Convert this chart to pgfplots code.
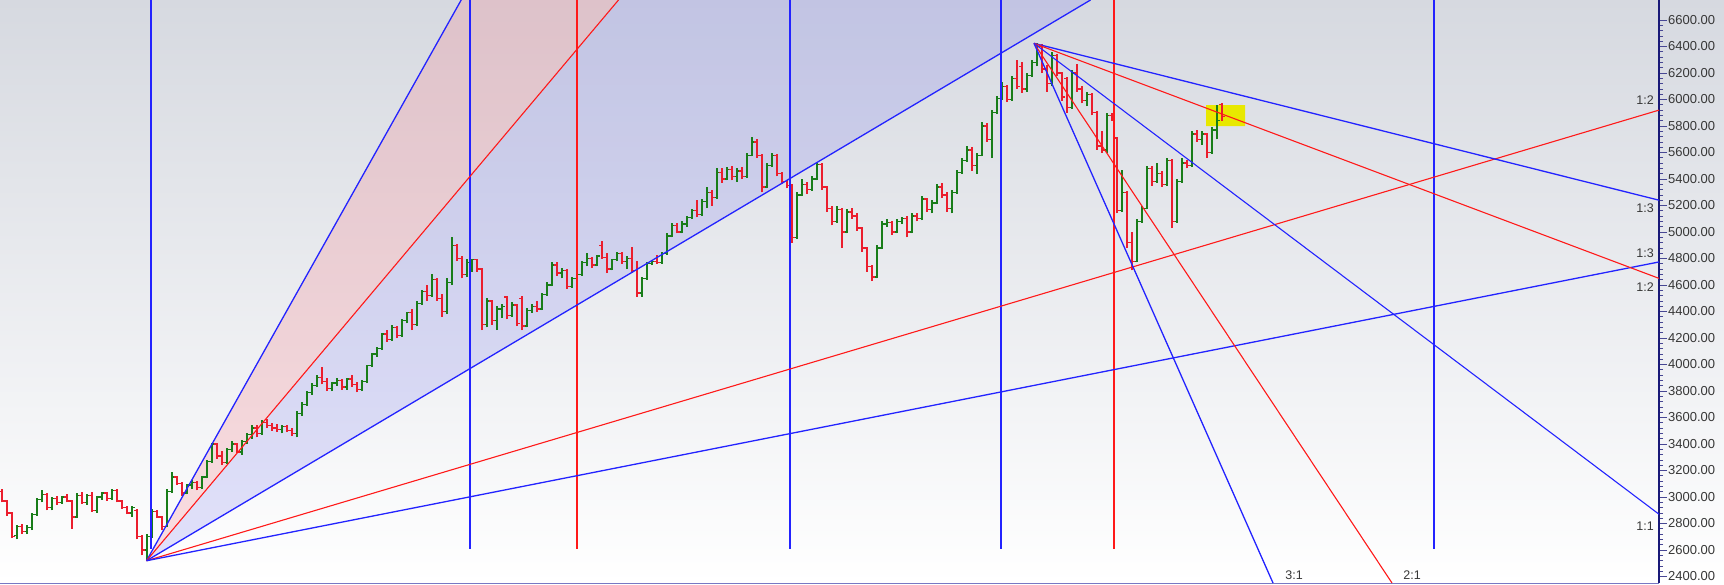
\documentclass[border=0pt]{standalone}
\usepackage{fontspec}
\setmainfont{Liberation Sans}
\usepackage{pgfplots}
\pgfplotsset{compat=1.18}
\usepackage{pgfplotstable}
\definecolor{bgtop}{RGB}{214,217,224}
\definecolor{gblue}{RGB}{35,35,255}
\definecolor{gred}{RGB}{255,25,25}
\definecolor{barg}{RGB}{25,125,25}
\definecolor{barr}{RGB}{235,30,45}
\definecolor{axnavy}{RGB}{25,25,120}
\definecolor{lblc}{RGB}{55,55,55}
\definecolor{lav}{RGB}{115,115,240}
\definecolor{pinkc}{RGB}{245,130,140}
\definecolor{yel}{RGB}{232,232,0}
\definecolor{botline}{RGB}{120,120,195}

\pgfplotstableread{
x o h l c
2 3040 3060 2960 2970
7 2970 2980 2860 2880
12 2880 2890 2690 2700
17 2710 2790 2680 2780
22 2780 2800 2720 2740
27 2740 2790 2720 2770
32 2770 2880 2750 2870
37 2870 2990 2860 2980
42 2980 3050 2960 3020
47 3020 3030 2900 2920
52 2920 3000 2900 2990
57 2990 3010 2940 2960
62 2960 3010 2950 3000
67 3000 3020 2960 2970
72 2970 2980 2760 2850
77 2850 3030 2840 3010
82 3010 3040 2950 2960
87 2960 3020 2940 3010
92 3010 3040 2890 2900
97 2900 3010 2880 3000
102 3000 3040 2980 3030
107 3030 3040 2970 2990
112 2990 3060 2980 3050
117 3050 3060 2960 2970
122 2970 2980 2910 2920
127 2920 2930 2870 2880
132 2880 2930 2850 2920
137 2900 2910 2680 2700
142 2700 2710 2560 2600
147 2600 2720 2520 2700
152 2700 2910 2690 2890
157 2890 2900 2840 2850
162 2850 2860 2750 2780
167 2780 3060 2770 3040
172 3040 3190 3030 3150
177 3150 3160 3090 3100
182 3100 3110 3010 3030
187 3030 3100 3020 3090
192 3090 3130 3060 3110
197 3110 3120 3050 3070
202 3070 3160 3060 3150
207 3150 3280 3140 3270
212 3270 3410 3260 3400
217 3400 3410 3290 3310
222 3310 3350 3240 3260
227 3260 3370 3250 3360
232 3360 3420 3340 3400
237 3400 3410 3330 3340
242 3340 3430 3320 3420
247 3420 3480 3400 3470
252 3470 3540 3440 3520
257 3520 3540 3450 3480
262 3480 3580 3470 3560
267 3560 3590 3520 3540
272 3540 3560 3500 3520
277 3520 3550 3490 3510
282 3510 3540 3480 3530
287 3530 3540 3490 3500
292 3500 3520 3460 3480
297 3480 3650 3450 3630
302 3630 3720 3610 3700
307 3700 3800 3690 3790
312 3790 3860 3770 3840
317 3840 3920 3830 3900
322 3900 3980 3850 3870
327 3870 3900 3800 3820
332 3820 3870 3800 3860
337 3860 3900 3840 3880
342 3880 3890 3810 3830
347 3830 3900 3810 3890
352 3890 3920 3830 3850
357 3850 3870 3790 3810
362 3810 3880 3800 3870
367 3870 4000 3860 3990
372 3990 4090 3980 4080
377 4080 4130 4060 4120
382 4120 4240 4110 4230
387 4230 4260 4170 4190
392 4190 4300 4180 4280
397 4280 4290 4200 4220
402 4220 4340 4210 4330
407 4330 4400 4310 4390
412 4390 4420 4260 4300
417 4300 4480 4290 4460
422 4460 4560 4450 4550
427 4550 4600 4480 4520
432 4520 4680 4510 4640
437 4640 4650 4480 4500
442 4500 4530 4360 4400
447 4400 4650 4380 4620
452 4620 4960 4600 4900
457 4900 4910 4780 4800
462 4800 4820 4650 4680
467 4680 4800 4660 4770
472 4770 4800 4700 4790
477 4790 4800 4700 4720
482 4720 4730 4260 4300
487 4300 4500 4280 4480
492 4480 4490 4300 4330
497 4330 4440 4260 4420
502 4420 4460 4350 4440
507 4510 4520 4340 4370
512 4370 4470 4360 4450
517 4450 4460 4290 4310
522 4500 4520 4260 4290
527 4290 4430 4280 4410
532 4410 4460 4390 4440
537 4440 4480 4400 4420
542 4420 4540 4410 4530
547 4530 4620 4520 4600
552 4600 4770 4590 4750
557 4750 4770 4670 4690
562 4690 4730 4650 4710
567 4710 4720 4570 4590
572 4590 4660 4580 4650
577 4650 4700 4630 4680
582 4680 4780 4670 4770
587 4770 4840 4740 4800
592 4800 4810 4730 4750
597 4750 4830 4740 4820
602 4900 4930 4800 4810
607 4810 4840 4690 4720
612 4720 4800 4710 4790
617 4790 4850 4780 4840
622 4840 4850 4760 4780
627 4780 4820 4720 4800
632 4800 4890 4690 4710
637 4710 4780 4510 4540
642 4540 4660 4510 4650
647 4650 4770 4640 4760
652 4760 4790 4750 4780
657 4780 4830 4760 4770
662 4770 4850 4760 4840
667 4840 4990 4830 4970
672 4970 5070 4960 5050
677 5050 5070 4990 5000
682 5000 5080 4990 5060
687 5060 5120 5040 5110
692 5110 5170 5100 5160
697 5160 5240 5110 5130
702 5130 5250 5120 5230
707 5230 5340 5180 5300
712 5300 5320 5200 5260
717 5260 5480 5250 5450
722 5450 5480 5370 5400
727 5400 5490 5390 5470
732 5470 5500 5390 5420
737 5420 5480 5380 5460
742 5460 5490 5400 5420
747 5420 5600 5410 5580
752 5580 5720 5570 5680
757 5680 5700 5560 5580
762 5580 5590 5300 5340
767 5340 5520 5330 5500
772 5500 5600 5490 5580
777 5580 5590 5420 5440
782 5440 5450 5360 5380
787 5380 5390 5330 5350
792 5350 5360 4920 4960
797 4960 5300 4950 5280
802 5280 5400 5270 5360
807 5360 5380 5290 5320
812 5320 5420 5310 5400
817 5400 5530 5390 5510
822 5510 5520 5320 5340
827 5340 5350 5150 5180
832 5180 5200 5050 5080
837 5080 5200 5070 5170
842 5170 5180 4880 5000
847 5000 5170 4990 5150
852 5150 5180 5100 5120
857 5120 5140 5010 5030
862 5030 5040 4850 4880
867 4880 4890 4700 4740
872 4740 4750 4630 4660
877 4660 4900 4650 4880
882 4880 5080 4870 5060
887 5060 5100 5040 5070
892 5070 5080 4980 5000
897 5000 5100 4990 5080
902 5080 5110 5060 5100
907 5100 5120 4960 5000
912 5000 5140 4990 5120
917 5120 5140 5080 5100
922 5100 5270 5090 5250
927 5250 5260 5150 5170
932 5170 5240 5140 5220
937 5220 5360 5210 5340
942 5340 5370 5260 5280
947 5280 5300 5150 5180
952 5180 5320 5140 5300
957 5300 5470 5290 5450
962 5450 5560 5440 5540
967 5540 5650 5530 5620
972 5620 5640 5460 5500
977 5500 5600 5440 5580
982 5580 5830 5570 5800
987 5800 5820 5680 5700
992 5700 5920 5560 5900
997 5900 6030 5890 6010
1002 6010 6130 6000 6100
1007 6100 6110 5980 6000
1012 6000 6180 5990 6160
1017 6160 6300 6080 6100
1022 6250 6280 6050 6080
1027 6080 6200 6060 6180
1032 6180 6300 6170 6280
1037 6280 6430 6250 6400
1042 6400 6420 6200 6230
1047 6230 6260 6060 6120
1052 6120 6360 6100 6330
1057 6330 6340 6180 6200
1062 6200 6210 5990 6020
1067 6160 6170 5900 5940
1072 5940 6220 5930 6200
1077 6200 6270 6060 6080
1082 6080 6100 5970 5990
1087 5990 6060 5950 6040
1092 6040 6050 5880 5900
1097 5900 5910 5620 5650
1102 5650 5760 5600 5620
1107 5620 5900 5600 5880
1112 5880 5900 5840 5850
1117 5710 5720 5140 5160
1122 5160 5470 5150 5300
1127 5300 5310 4880 4920
1132 4920 5000 4710 4780
1137 4780 5100 4770 5080
1142 5080 5200 5070 5180
1147 5180 5500 5170 5480
1152 5480 5500 5350 5380
1157 5380 5520 5370 5440
1162 5440 5460 5340 5360
1167 5360 5560 5350 5540
1172 5540 5550 5030 5080
1177 5080 5400 5070 5380
1182 5380 5560 5370 5520
1187 5520 5540 5480 5500
1192 5500 5760 5490 5740
1197 5740 5770 5680 5700
1202 5700 5760 5660 5740
1207 5740 5750 5560 5600
1212 5600 5790 5590 5770
1217 5770 5960 5700 5840
1222 5960 5970 5840 5870
}\bars

\pgfplotsset{
  ohlc/.style={draw=none, mark=none, forget plot},
  ebar/.style={/pgfplots/error bars/error mark=none,
    /pgfplots/error bars/error bar style={line width=1.3pt, draw=#1, line cap=butt}},
  upbars/.style={restrict expr to domain={\thisrow{c}-\thisrow{o}}{0:100000}},
  dnbars/.style={restrict expr to domain={\thisrow{c}-\thisrow{o}}{-100000:0}},
}

\begin{document}
\begin{tikzpicture}
\shade[top color=bgtop, bottom color=white] (0pt,0pt) rectangle (1724pt,584pt);
\begin{axis}[
  at={(0pt,1pt)}, anchor=south west,
  scale only axis, width=1659pt, height=583pt,
  xmin=0, xmax=1659, ymin=2351, ymax=6751,
  clip mode=individual,
  axis x line*=bottom, axis y line*=right,
  x axis line style={-, draw=botline, line width=1pt},
  y axis line style={-, draw=axnavy, line width=1.4pt},
  xtick=\empty,
  ytick={2400,2600,...,6600},
  minor y tick num=4,
  tick align=outside,
  major tick length=8pt, minor tick length=4pt,
  every tick/.style={draw=axnavy!80, line width=0.7pt},
  /pgf/number format/assume math mode=true,
  yticklabel style={font=\fontsize{13}{15}\selectfont, text=lblc, inner sep=1pt,
    /pgf/number format/.cd, fixed, fixed zerofill, precision=2, 1000 sep={}},
]
% shaded fan sectors
\addplot[draw=none, fill=lav, fill opacity=0.20] coordinates {(146.5,2519) (618.5,6751) (1090.5,6751) (146.5,2519)};
\addplot[draw=none, fill=pinkc, fill opacity=0.26] coordinates {(146.5,2519) (461.2,6751) (618.5,6751) (146.5,2519)};
% highlight box
\addplot[draw=none, fill=yel] coordinates {(1206,5800) (1245,5800) (1245,5958) (1206,5958) (1206,5800)};
% OHLC bars: up (green)
\addplot[ohlc, upbars, ebar=barg, error bars/.cd, y dir=plus, y explicit]
  table[x=x, y=l, y error expr=\thisrow{h}-\thisrow{l}] {\bars};
\addplot[ohlc, upbars, ebar=barg, error bars/.cd, x dir=minus, x fixed=3]
  table[x=x, y=o] {\bars};
\addplot[ohlc, upbars, ebar=barg, error bars/.cd, x dir=plus, x fixed=3]
  table[x=x, y=c] {\bars};
% OHLC bars: down (red)
\addplot[ohlc, dnbars, ebar=barr, error bars/.cd, y dir=plus, y explicit]
  table[x=x, y=l, y error expr=\thisrow{h}-\thisrow{l}] {\bars};
\addplot[ohlc, dnbars, ebar=barr, error bars/.cd, x dir=minus, x fixed=3]
  table[x=x, y=o] {\bars};
\addplot[ohlc, dnbars, ebar=barr, error bars/.cd, x dir=plus, x fixed=3]
  table[x=x, y=c] {\bars};
% vertical time lines
\addplot[gblue, line width=2pt] coordinates {(150.5,2611) (150.5,6751)};
\addplot[gblue, line width=2pt] coordinates {(470,2611) (470,6751)};
\addplot[gred,  line width=2pt] coordinates {(576.5,2611) (576.5,6751)};
\addplot[gblue, line width=2pt] coordinates {(789.5,2611) (789.5,6751)};
\addplot[gblue, line width=2pt] coordinates {(1001,2611) (1001,6751)};
\addplot[gred,  line width=2pt] coordinates {(1114,2611) (1114,6751)};
\addplot[gblue, line width=2pt] coordinates {(1434,2611) (1434,6751)};
% fan from the low
\addplot[gblue, line width=1.3pt] coordinates {(146.5,2519) (461.2,6751)};
\addplot[gred,  line width=1.1pt] coordinates {(146.5,2519) (618.5,6751)};
\addplot[gblue, line width=1.3pt] coordinates {(146.5,2519) (1090.5,6751)};
\addplot[gred,  line width=1.1pt] coordinates {(146.5,2519) (1659,5920)};
\addplot[gblue, line width=1.3pt] coordinates {(146.5,2519) (1659,4774)};
% fan from the high
\addplot[gblue, line width=1.3pt] coordinates {(1034,6424) (1659,5240)};
\addplot[gred,  line width=1.1pt] coordinates {(1034,6424) (1659,4650)};
\addplot[gblue, line width=1.1pt] coordinates {(1034,6424) (1659,2870)};
\addplot[gred,  line width=1.1pt] coordinates {(1034,6424) (1392,2351)};
\addplot[gblue, line width=1.3pt] coordinates {(1034,6424) (1273,2351)};
% ratio labels
\begin{scope}[every node/.style={font=\fontsize{12.5}{14}\selectfont, text=lblc, inner sep=0pt}]
\node[anchor=east] at (axis cs:1654,5996) {1:2};
\node[anchor=east] at (axis cs:1654,5181) {1:3};
\node[anchor=east] at (axis cs:1654,4841) {1:3};
\node[anchor=east] at (axis cs:1654,4584) {1:2};
\node[anchor=east] at (axis cs:1654,2780) {1:1};
\node at (axis cs:1294,2410) {3:1};
\node at (axis cs:1412,2410) {2:1};
\end{scope}
\end{axis}
\pgfresetboundingbox
\useasboundingbox (0pt,0pt) rectangle (1724pt,584pt);
\end{tikzpicture}
\end{document}
